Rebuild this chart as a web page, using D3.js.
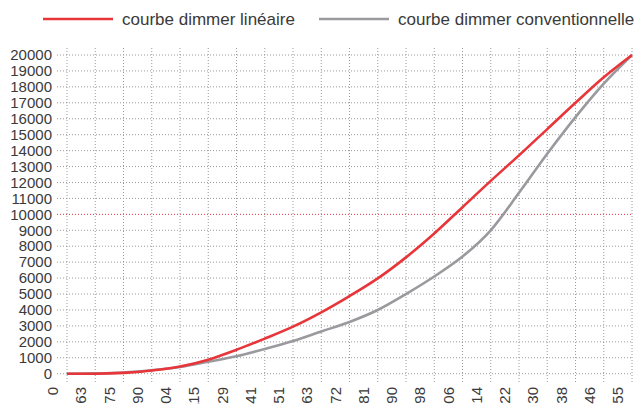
<!DOCTYPE html>
<html>
<head>
<meta charset="utf-8">
<script src="https://cdn.jsdelivr.net/npm/d3@7"></script>
<style>
  body { margin: 0; background: #fff; }
  svg { display: block; font-family: "Liberation Sans", Arial, sans-serif; }
</style>
</head>
<body>
<svg id="chart" width="634" height="404"></svg>
<script>
// x categories (dimmer steps)
var categories = ["0","63","75","90","104","115","129","141","151","163","172",
                  "181","190","198","206","214","222","230","238","246","255"]
// series
var lineaire = [0, 0, 50, 200, 450, 880, 1500, 2200, 2950, 3850, 4870,
                5980, 7300, 8800, 10450, 12100, 13700, 15350, 17000, 18600, 20000]
var conventionnelle = [0, 20, 80, 220, 420, 750, 1100, 1550, 2050, 2650, 3250,
                       4000, 5000, 6100, 7350, 9000, 11350, 13800, 16100, 18200, 20000]
var yTicks = d3.range(0, 20001, 1000)
var seriesNames = ["courbe dimmer linéaire", "courbe dimmer conventionnelle"]

var red = "#e8353a", grey = "#9a9a9e", textCol = "#3a3a3a"

var svg = d3.select("#chart")

var x = d3.scalePoint().domain(categories).range([67, 632])
var y = d3.scaleLinear().domain([0, 20000]).range([373.7, 55])

// horizontal grid
svg.append("g")
  .selectAll("line")
  .data(yTicks)
  .join("line")
    .attr("x1", 57).attr("x2", 632)
    .attr("y1", d => y(d)).attr("y2", d => y(d))
    .attr("stroke", d => d == 10000 ? red : "#9a9a9a")
    .attr("stroke-width", 1)
    .attr("stroke-dasharray", "1,2")

// vertical grid
svg.append("g")
  .selectAll("line")
  .data(categories)
  .join("line")
    .attr("x1", d => x(d)).attr("x2", d => x(d))
    .attr("y1", 48).attr("y2", 383)
    .attr("stroke", "#9a9a9a")
    .attr("stroke-width", 1)
    .attr("stroke-dasharray", "1,2")

// y labels
svg.append("g")
  .selectAll("text")
  .data(yTicks)
  .join("text")
    .attr("x", 52)
    .attr("y", d => y(d))
    .attr("dy", "0.35em")
    .attr("text-anchor", "end")
    .attr("font-size", 15)
    .attr("fill", textCol)
    .text(d => d)

// x labels, rotated, sitting half a step left of their gridline
var step = x.step()
svg.append("g")
  .selectAll("text")
  .data(categories)
  .join("text")
    .attr("transform", d => "translate(" + (x(d) - step / 2) + ",387) rotate(-90)")
    .attr("dy", "0.35em")
    .attr("text-anchor", "end")
    .attr("font-size", 15)
    .attr("fill", textCol)
    .text(d => d)

var line = d3.line()
  .x((d, i) => x(categories[i]))
  .y(d => y(d))
  .curve(d3.curveMonotoneX)

svg.append("path")
  .attr("d", line(conventionnelle))
  .attr("fill", "none")
  .attr("stroke", grey)
  .attr("stroke-width", 2.6)

svg.append("path")
  .attr("d", line(lineaire))
  .attr("fill", "none")
  .attr("stroke", red)
  .attr("stroke-width", 2.6)

// legend
var legend = svg.append("g")
var legendItems = [
  {name: seriesNames[0], color: red, x: 43},
  {name: seriesNames[1], color: grey, x: 319}
]
legendItems.forEach(function(d){
  legend.append("line")
    .attr("x1", d.x).attr("x2", d.x + 70)
    .attr("y1", 19).attr("y2", 19)
    .attr("stroke", d.color)
    .attr("stroke-width", 2.6)
  legend.append("text")
    .attr("x", d.x + 79)
    .attr("y", 19)
    .attr("dy", "0.35em")
    .attr("font-size", 17)
    .attr("fill", textCol)
    .text(d.name)
})
</script>
</body>
</html>
